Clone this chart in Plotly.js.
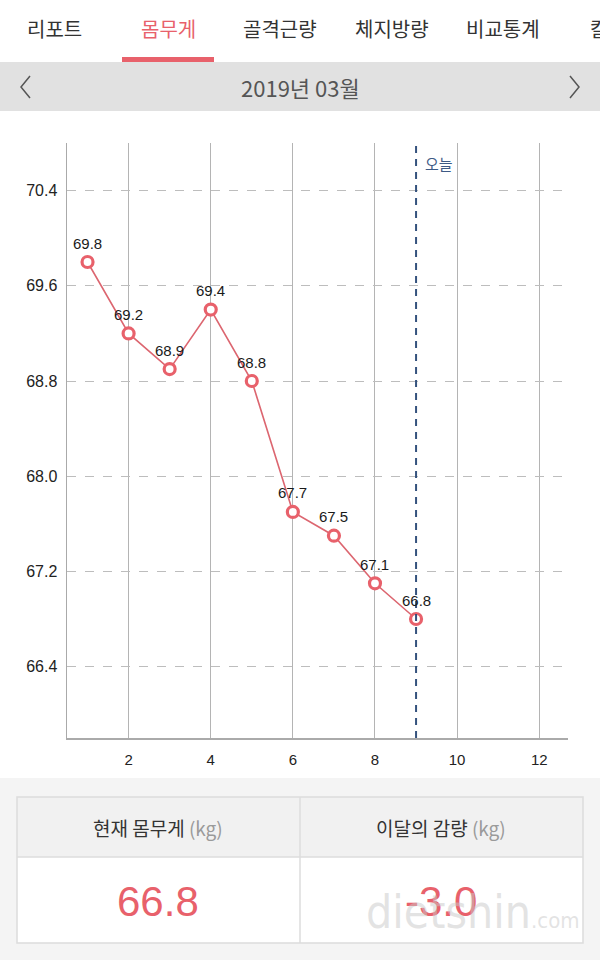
<!DOCTYPE html>
<html>
<head>
<meta charset="utf-8">
<script src="https://cdn.plot.ly/plotly-3.0.1.min.js"></script>
<style>
html,body{margin:0;padding:0;background:#fff;}
#chart{width:600px;height:960px;}
</style>
</head>
<body>
<div id="chart"></div>
<script>
// ---- data ----
const days = [1, 2, 3, 4, 5, 6, 7, 8, 9];
const weights = [69.8, 69.2, 68.9, 69.4, 68.8, 67.7, 67.5, 67.1, 66.8];
const xTicks = [2, 4, 6, 8, 10, 12];
const yTicks = [66.4, 67.2, 68.0, 68.8, 69.6, 70.4];
const todayDay = 9;
const tabs = ['리포트', '몸무게', '골격근량', '체지방량', '비교통계', '칼로리'];
const monthLabel = '2019년 03월';
const summaryHeaders = ['현재 몸무게', '이달의 감량'];
const summaryUnit = '(kg)';
const currentWeight = 66.8;
const monthChange = -3.0;

// ---- helpers (pixel -> paper) ----
const W = 600, H = 960;
const px = x => x / W;
const py = y => 1 - y / H;
const PINK = '#e8616b';
const KR = '"Noto Sans CJK KR", "Noto Sans", sans-serif';
const NUM = '"Liberation Sans", Arial, sans-serif';

const trace = {
  x: days, y: weights,
  type: 'scatter', mode: 'lines+markers',
  cliponaxis: false,
  line: {color: '#dc6670', width: 1.6},
  marker: {symbol: 'circle', size: 11, color: '#ffffff', line: {color: PINK, width: 3.2}},
  hoverinfo: 'skip'
};

const shapes = [];
const annotations = [];

// point value labels (from data, through axes)
days.forEach((d, i) => {
  annotations.push({xref: 'x', yref: 'y', x: d, y: weights[i], yshift: 19, xanchor: 'center', yanchor: 'middle', showarrow: false,
    text: weights[i].toFixed(1), font: {family: NUM, size: 15, color: '#1a1a1a'}});
});

// top tab bar
const tabX = [55, 168, 280, 392, 503, 588];
tabs.forEach((t, i) => {
  annotations.push({xref: 'paper', yref: 'paper', x: px(tabX[i]), y: py(29), xanchor: i === 5 ? 'left' : 'center', yanchor: 'middle',
    text: t, showarrow: false, font: {family: KR, size: 20, color: i === 1 ? PINK : '#333333'}});
});
shapes.push({type: 'rect', xref: 'paper', yref: 'paper', x0: px(122), x1: px(214), y0: py(62), y1: py(57), fillcolor: PINK, line: {width: 0}, layer: 'below'});
// grey month bar
shapes.push({type: 'rect', xref: 'paper', yref: 'paper', x0: 0, x1: 1, y0: py(111), y1: py(62), fillcolor: '#e1e1e1', line: {width: 0}, layer: 'below'});
annotations.push({xref: 'paper', yref: 'paper', x: 0.5, y: py(87), xanchor: 'center', yanchor: 'middle', text: monthLabel, showarrow: false,
  font: {family: KR, size: 22, color: '#555555'}});
// chevrons
shapes.push({type: 'path', xref: 'paper', yref: 'paper', path: `M ${px(30)},${py(76)} L ${px(21)},${py(87)} L ${px(30)},${py(98)}`, line: {color: '#555', width: 1.5}});
shapes.push({type: 'path', xref: 'paper', yref: 'paper', path: `M ${px(570)},${py(76)} L ${px(579)},${py(87)} L ${px(570)},${py(98)}`, line: {color: '#555', width: 1.5}});

// bottom summary area
shapes.push({type: 'rect', xref: 'paper', yref: 'paper', x0: 0, x1: 1, y0: 0, y1: py(778), fillcolor: '#f4f4f4', line: {width: 0}, layer: 'below'});
shapes.push({type: 'rect', xref: 'paper', yref: 'paper', x0: px(17), x1: px(583), y0: py(857), y1: py(797), fillcolor: '#f1f1f1', line: {width: 0}, layer: 'below'});
shapes.push({type: 'rect', xref: 'paper', yref: 'paper', x0: px(17), x1: px(583), y0: py(943), y1: py(857), fillcolor: '#ffffff', line: {width: 0}, layer: 'below'});
shapes.push({type: 'rect', xref: 'paper', yref: 'paper', x0: px(17), x1: px(583), y0: py(943), y1: py(797), line: {color: '#dcdcdc', width: 1.5}});
shapes.push({type: 'line', xref: 'paper', yref: 'paper', x0: px(17), x1: px(583), y0: py(857), y1: py(857), line: {color: '#dcdcdc', width: 1.5}});
shapes.push({type: 'line', xref: 'paper', yref: 'paper', x0: px(300), x1: px(300), y0: py(943), y1: py(797), line: {color: '#dcdcdc', width: 1.5}});
const colX = [158, 441];
summaryHeaders.forEach((h, i) => {
  annotations.push({xref: 'paper', yref: 'paper', x: px(colX[i]), y: py(827), xanchor: 'center', yanchor: 'middle', showarrow: false,
    text: h + ' <span style="color:#9a9a9a">' + summaryUnit + '</span>', font: {family: KR, size: 19, color: '#333333'}});
});
annotations.push({xref: 'paper', yref: 'paper', x: px(colX[0]), y: py(901), xanchor: 'center', yanchor: 'middle', showarrow: false,
  text: currentWeight.toFixed(1), font: {family: NUM, size: 42, color: PINK}});
annotations.push({xref: 'paper', yref: 'paper', x: px(colX[1]), y: py(901), xanchor: 'center', yanchor: 'middle', showarrow: false,
  text: monthChange.toFixed(1), font: {family: NUM, size: 42, color: PINK}});
// watermark
annotations.push({xref: 'paper', yref: 'paper', x: px(582), y: py(941), xanchor: 'right', yanchor: 'bottom', showarrow: false,
  text: 'dietshin<span style="font-size:22px">.com</span>', font: {family: '"DejaVu Sans Condensed", "Liberation Sans Narrow", sans-serif', size: 46, color: 'rgba(200,200,200,0.5)'}});

// today line + label
shapes.push({type: 'line', xref: 'x', yref: 'paper', x0: todayDay, x1: todayDay, y0: py(738), y1: py(143), line: {color: '#34527d', width: 2, dash: '7px,6px'}});
annotations.push({xref: 'x', yref: 'paper', x: todayDay, y: py(163), xanchor: 'left', yanchor: 'middle', xshift: 7, showarrow: false,
  text: '오늘', font: {family: KR, size: 15, color: '#3d5a85'}});

const layout = {
  width: W, height: H,
  margin: {l: 0, r: 0, t: 0, b: 0},
  paper_bgcolor: '#ffffff', plot_bgcolor: 'rgba(0,0,0,0)',
  showlegend: false,
  xaxis: {domain: [px(67), px(568)], range: [0.5, 12.7], tickvals: xTicks, showgrid: true, gridcolor: '#b4b4b4', gridwidth: 1,
    zeroline: false, showline: true, linecolor: '#aaaaaa', linewidth: 1.5, ticks: '', ticklabelstandoff: 7,
    tickfont: {family: NUM, size: 15, color: '#222222'}, fixedrange: true},
  yaxis: {domain: [py(738), py(143)], range: [65.8, 70.8], tickvals: yTicks, tickformat: '.1f', showgrid: true, gridcolor: '#bdbdbd', gridwidth: 1,
    griddash: 'dash', zeroline: false, showline: true, linecolor: '#aaaaaa', linewidth: 1.5, ticks: '', ticklabelstandoff: 5,
    tickfont: {family: NUM, size: 16, color: '#222222'}, fixedrange: true},
  shapes: shapes,
  annotations: annotations
};

Plotly.newPlot('chart', [trace], layout, {displayModeBar: false, staticPlot: true});
</script>
</body>
</html>
